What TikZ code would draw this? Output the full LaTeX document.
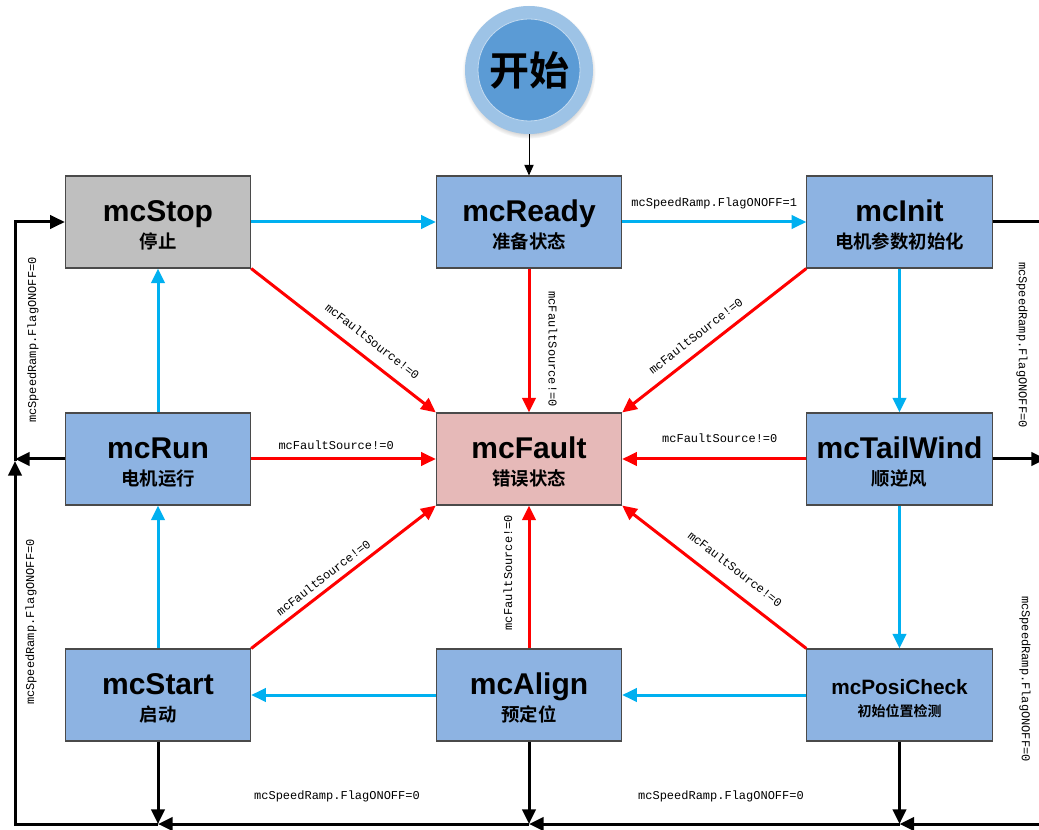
\documentclass[tikz,border=0pt]{standalone}
\usepackage{fontspec}
\setmainfont{Liberation Sans}
\newfontfamily\cjk{Noto Sans CJK SC}[BoldFont={Noto Sans CJK SC Bold}]
\newfontfamily\lbfont{Liberation Mono}
\usetikzlibrary{arrows.meta,shadows}
\definecolor{boxblue}{HTML}{8DB3E2}
\definecolor{boxgray}{HTML}{BFBFBF}
\definecolor{boxpink}{HTML}{E6B9B8}
\definecolor{bordc}{HTML}{4A4A4A}
\definecolor{cyanc}{HTML}{00B0F0}
\definecolor{redc}{HTML}{FF0000}
\definecolor{outerc}{HTML}{9DC3E6}
\definecolor{innerc}{HTML}{5B9BD5}
% name, x, y, fill, title, subtitle
\newcommand\statebox[6]{%
  \node[box, fill=#4] (#1) at (#2,#3) {};
  \node[ttl, anchor=base] (#1-t) at ([yshift=0.5pt]#1.center) {#5};
  \node[subt, anchor=base] (#1-s) at ([yshift=-20pt]#1.center) {#6};}
\begin{document}
\begin{tikzpicture}[x=0.75pt,y=-0.75pt,
  box/.style={draw=bordc, line width=0.8pt, minimum width=139pt, minimum height=69pt, inner sep=0pt, fill=boxblue},
  ttl/.style={font=\fontsize{22.5pt}{24pt}\selectfont\bfseries, inner sep=0pt},
  subt/.style={font=\fontsize{13.8pt}{15pt}\selectfont\cjk\bfseries, inner sep=0pt},
  lbl/.style={font=\fontsize{9pt}{10pt}\selectfont\lbfont, inner sep=1.5pt},
  tip/.style={-{Triangle[length=11pt,width=10pt]}},
  blu/.style={draw=cyanc, line width=2.25pt, tip},
  rd/.style={draw=redc, line width=2.25pt, tip},
  blk/.style={draw=black, line width=2.25pt, tip},
  blkline/.style={draw=black, line width=2.25pt}]
\clip (0,0) rectangle (1039,830);
\fill[white] (0,0) rectangle (1039,830);

% start circle
\node[circle, fill=outerc, minimum size=96pt, inner sep=0pt,
      circular drop shadow={shadow xshift=0pt, shadow yshift=-1.5pt, shadow scale=1.04, fill=black!30}] (startc) at (529,70) {};
\node[circle, fill=innerc, draw=outerc!60!white, line width=0.6pt, minimum size=76.5pt, inner sep=0pt, font=\fontsize{30pt}{32pt}\selectfont\cjk\bfseries] (start) at (529,70) {开始};

% boxes
\statebox{stop}{158}{222}{boxgray}{mcStop}{停止}
\statebox{ready}{529}{222}{boxblue}{mcReady}{准备状态}
\statebox{init}{899.5}{222}{boxblue}{mcInit}{电机参数初始化}
\statebox{run}{158}{459}{boxblue}{mcRun}{电机运行}
\statebox{fault}{529}{459}{boxpink}{mcFault}{错误状态}
\statebox{tail}{899.5}{459}{boxblue}{mcTailWind}{顺逆风}
\statebox{startb}{158}{695}{boxblue}{mcStart}{启动}
\statebox{align}{529}{695}{boxblue}{mcAlign}{预定位}
\node[box] (posi) at (899.5,695) {};
\node[ttl, anchor=base, font=\fontsize{15.6pt}{17pt}\selectfont\bfseries] (posi-t) at ([yshift=0.75pt]posi.center) {mcPosiCheck};
\node[subt, anchor=base, font=\fontsize{10.5pt}{12pt}\selectfont\cjk\bfseries] (posi-s) at ([yshift=-15.75pt]posi.center) {初始位置检测};

% start arrow
\draw[black, line width=0.75pt, -{Triangle[length=8pt,width=7pt]}] (startc.south) -- (ready.north);

% blue transitions
\draw[blu] (stop.east) -- (ready.west);
\draw[blu] (ready.east) -- node[lbl, above=7pt] {mcSpeedRamp.FlagONOFF=1} (init.west);
\draw[blu] (init.south) -- (tail.north);
\draw[blu] (tail.south) -- (posi.north);
\draw[blu] (posi.west) -- (align.east);
\draw[blu] (align.west) -- (startb.east);
\draw[blu] (startb.north) -- (run.south);
\draw[blu] (run.north) -- (stop.south);

% red fault transitions
\draw[rd] (stop.south east) -- node[lbl, sloped, above=7pt, pos=0.6] {mcFaultSource!=0} (fault.north west);
\draw[rd] (ready.south) -- node[lbl, sloped, above=12pt, pos=0.56] {mcFaultSource!=0} (fault.north);
\draw[rd] (init.south west) -- node[lbl, sloped, above=5.5pt, pos=0.55] {mcFaultSource!=0} (fault.north east);
\draw[rd] (run.east) -- node[lbl, above=4.5pt, pos=0.46] {mcFaultSource!=0} (fault.west);
\draw[rd] (tail.west) -- node[lbl, above=10pt, pos=0.47] {mcFaultSource!=0} (fault.east);
\draw[rd] (startb.north east) -- node[lbl, sloped, above=3pt, pos=0.43] {mcFaultSource!=0} (fault.south west);
\draw[rd] (align.north) -- node[lbl, sloped, above=10pt, pos=0.53] {mcFaultSource!=0} (fault.south);
\draw[rd] (posi.north west) -- node[lbl, sloped, above=8.5pt, pos=0.45] {mcFaultSource!=0} (fault.south east);

% black stop loop
\coordinate (initout) at (1050,222);
\coordinate (tailout) at (1046,459);
\coordinate (br) at (1050,824);
\coordinate (b3) at (899.5,824);
\coordinate (b2) at (529,824);
\coordinate (b1) at (158,824);
\coordinate (bl) at (15,824);
\coordinate (lm) at (15,461);
\coordinate (lt) at (15,222);

\draw[blkline] (init.east) -- (initout);
\draw[blk] (tail.east) -- (tailout);
\draw[blk] (br) -- (b3);
\draw[blk] (b3) -- (b2);
\draw[blk] (b2) -- (b1);
\draw[blk] (b1) -- (bl) -- (lm);
\draw[blk] (run.west) -- (lm |- run.west);
\draw[blk] (lm) -- (lt) -- (stop.west);
\draw[blk] (startb.south) -- (b1);
\draw[blk] (align.south) -- (b2);
\draw[blk] (posi.south) -- (b3);

% stop labels
\node[lbl] (lb1) at (337,796) {mcSpeedRamp.FlagONOFF=0};
\node[lbl] (lb2) at (721,796) {mcSpeedRamp.FlagONOFF=0};
\node[lbl, rotate=90] (lb3) at (33,340) {mcSpeedRamp.FlagONOFF=0};
\node[lbl, rotate=90] (lb4) at (31,622) {mcSpeedRamp.FlagONOFF=0};
\node[lbl, rotate=-90] (lb5) at (1022,345) {mcSpeedRamp.FlagONOFF=0};
\node[lbl, rotate=-90] (lb6) at (1025,679) {mcSpeedRamp.FlagONOFF=0};
\end{tikzpicture}
\end{document}
